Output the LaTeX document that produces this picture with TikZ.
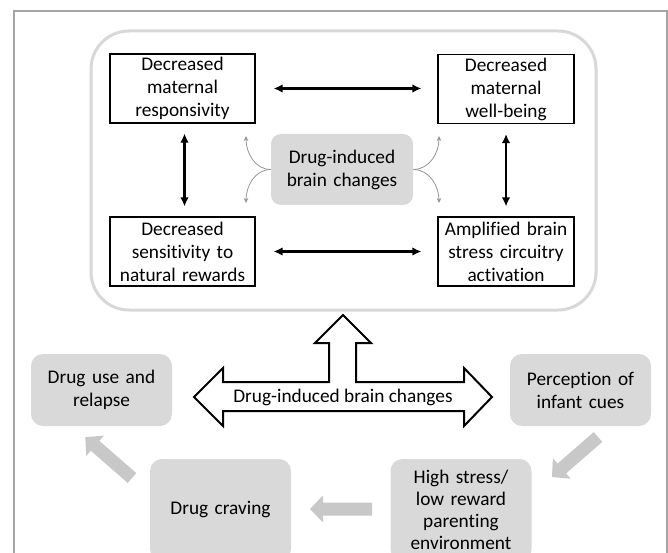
\documentclass[tikz,border=0pt]{standalone}
\usepackage{fontspec}
\setmainfont{Carlito}[Ligatures=NoCommon]
\usetikzlibrary{arrows.meta,calc}
\definecolor{boxgray}{RGB}{217,217,217}
\definecolor{agray}{RGB}{200,200,200}
\definecolor{rrgray}{RGB}{216,216,216}
\definecolor{framegray}{RGB}{165,165,165}
\definecolor{curvegray}{RGB}{150,150,150}
\newcommand\fatarrow[3]{%
  \begin{scope}[shift={(#1)},rotate=#2]
    \fill[agray] (0,-6.5) -- ({#3-13},-6.5) -- ({#3-13},-13.5) -- (#3,0)
      -- ({#3-13},13.5) -- ({#3-13},6.5) -- (0,6.5) -- cycle;
  \end{scope}}
\begin{document}
\begin{tikzpicture}[x=1pt,y=1pt,
  font=\fontsize{19.3}{23}\selectfont,
  wbox/.style={draw=black, line width=1.1pt, fill=white, align=center,
    inner sep=0pt, text width=#1, minimum height=69pt},
  gbox/.style={fill=boxgray, rounded corners=12pt, align=center,
    inner sep=0pt, text width=141pt, minimum height=#1},
  dbl/.style={{Latex[length=9pt,width=8.5pt]}-{Latex[length=9pt,width=8.5pt]},
    line width=2.3pt},
  curvearrow/.style={curvegray, line width=0.8pt,
    -{Stealth[length=5pt,width=4.5pt]}},
  bigarrow/.style={draw=black, line width=2pt, fill=white, line join=miter}]
\useasboundingbox (0,0) rectangle (668,-553);
\begin{scope}
\clip (0,0) rectangle (668,-553);
\fill[white] (0,0) rectangle (668,-553);
% outer frame
\draw[framegray, line width=1.5pt] (667,-600) -- (667,-11) -- (14,-11) -- (14,-600);
% rounded container
\draw[rrgray, line width=3pt, rounded corners=38pt] (91,-31) rectangle (596,-310);
% top four boxes
\node[wbox=145pt] (tl) at (182.5,-88.5) {Decreased\\maternal\\responsivity};
\node[wbox=136pt] (tr) at (506,-89) {Decreased\\maternal\\well-being};
\node[wbox=145pt] (bl) at (182.5,-251.5) {Decreased\\sensitivity to\\natural rewards};
\node[wbox=136pt] (br) at (506,-251.5) {Amplified brain\\stress circuitry\\activation};
% center box
\node[fill=boxgray, rounded corners=10pt, align=center, inner sep=0pt,
  text width=142pt, minimum height=71pt] (cb) at (342,-169.5) {Drug-induced\\brain changes};
% black double arrows
\draw[dbl, shorten <=18pt, shorten >=16pt] (tl.east) -- (tl.east -| tr.west);
\draw[dbl, shorten <=18pt, shorten >=16pt] (bl.east) -- (bl.east -| br.west);
\draw[dbl, shorten <=10pt, shorten >=10pt] ([xshift=2pt]tl.south) -- ([xshift=2pt]bl.north);
\draw[dbl, shorten <=10pt, shorten >=10pt] (tr.south) -- (br.north);
% gray curved arrows
\coordinate (cul) at (246,-136);
\coordinate (cdl) at (246,-203);
\coordinate (cur) at (439,-136);
\coordinate (cdr) at (439,-203);
\draw[curvearrow] (cb.west) to[out=180,in=-90] (cul);
\draw[curvearrow] (cb.west) to[out=180,in=90] (cdl);
\draw[curvearrow] (cb.east) to[out=0,in=-90] (cur);
\draw[curvearrow] (cb.east) to[out=0,in=90] (cdr);
% big outline arrow
\draw[bigarrow] (343,-315) -- (371,-343) -- (356,-343) -- (356,-382) -- (464,-382)
  -- (464,-368) -- (492,-397) -- (464,-426) -- (464,-411) -- (223,-411)
  -- (223,-426) -- (194,-397) -- (223,-368) -- (223,-382) -- (329,-382)
  -- (329,-343) -- (315,-343) -- cycle;
\node (bat) at (343,-397) {Drug-induced brain changes};
% bottom boxes
\node[gbox=72pt] (du) at (101.5,-390) {Drug use and\\relapse};
\node[gbox=72pt] (pc) at (580.5,-390) {Perception of\\infant cues};
\node[gbox=102pt] (dc) at (220.5,-510) {Drug craving};
\node[gbox=102pt, font=\fontsize{19.3}{22}\selectfont] (hs) at (461,-510) {High stress/\\low reward\\parenting\\environment};
% fat gray arrows
\coordinate (f1) at (598,-437);
\coordinate (f2) at (372,-509);
\coordinate (f3) at (132,-478);
\fatarrow{f1}{221}{61}
\fatarrow{f2}{180}{62}
\fatarrow{f3}{138.9}{62}
\end{scope}
\end{tikzpicture}
\end{document}
